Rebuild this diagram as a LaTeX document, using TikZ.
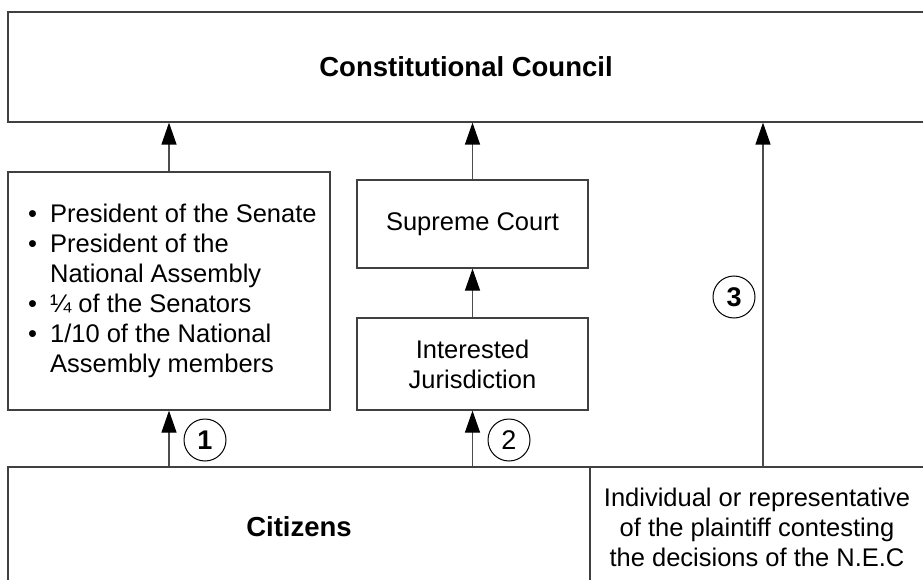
\documentclass[tikz,border=0pt]{standalone}
\usepackage{fontspec}
\setmainfont{Liberation Sans}
\usetikzlibrary{arrows.meta}
\begin{document}
\begin{tikzpicture}[x=1pt,y=-1pt,
 box/.style={draw=black!75, line width=1.2pt, inner sep=0pt, align=center, font=\fontsize{25.5}{30}\selectfont},
 bold/.style={font=\fontsize{27.5}{30}\selectfont\bfseries},
 arr/.style={draw=black!70, line width=1.2pt, -{Triangle[length=22pt,width=15pt,fill=black,color=black]}},
 num/.style={circle, draw=black, line width=1pt, minimum size=42pt, inner sep=0pt, font=\fontsize{27}{30}\selectfont}]
\useasboundingbox (0,0) rectangle (923,580);
\clip (0,0) rectangle (923,580);
\node[box, bold, minimum width=916pt, minimum height=110pt] (cc) at (466,67) {Constitutional Council};
\node[box, minimum width=322pt, minimum height=238pt] (lst) at (169,291) {};
\node[anchor=west, inner sep=0pt, font=\fontsize{25.5}{30}\selectfont] (lsttxt) at (28,291)
 {\begin{tabular}{@{}l@{\hspace{13pt}}l@{}}
 \textbullet & President of the Senate\\
 \textbullet & President of the\\
  & National Assembly\\
 \textbullet & ¼ of the Senators\\
 \textbullet & 1/10 of the National\\
  & Assembly members
 \end{tabular}};
\node[box, minimum width=231pt, minimum height=88pt] (sc) at (472.5,224) {Supreme Court};
\node[box, minimum width=231pt, minimum height=92pt] (ij) at (472.5,364) {Interested\\Jurisdiction};
\node[box, bold, minimum width=582pt, minimum height=120pt] (cit) at (299,527) {Citizens};
\node[box, minimum width=334pt, minimum height=120pt] (plf) at (757,527) {Individual or representative\\of the plaintiff contesting\\the decisions of the N.E.C};
\coordinate (p3) at (763,467);
\draw[arr] (lst.north) -- (lst.north |- cc.south);
\draw[arr] (sc.north) -- (sc.north |- cc.south);
\draw[arr] (ij.north) -- (sc.south);
\draw[arr] (lst.south |- cit.north) -- (lst.south);
\draw[arr] (ij.south |- cit.north) -- (ij.south);
\draw[arr] (p3) -- (p3 |- cc.south);
\node[num] (n1) at (205,440) {\bfseries 1};
\node[num] (n2) at (509,440) {2};
\node[num] (n3) at (734,297) {\bfseries 3};
\end{tikzpicture}
\end{document}
